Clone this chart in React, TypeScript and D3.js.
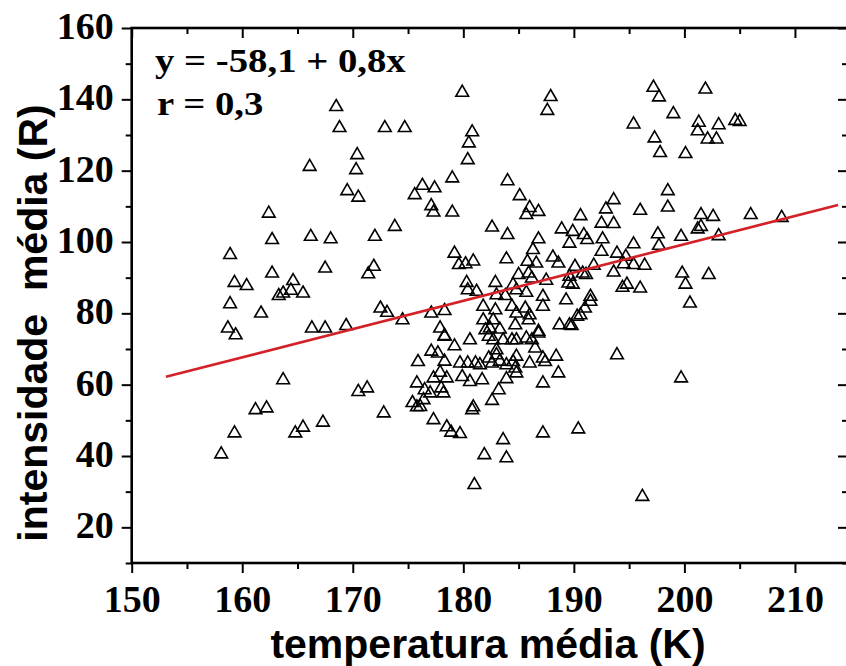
import React, { useRef, useEffect } from 'react';
import * as d3 from 'd3';

// temperatura média (K) de cada ponto
const temperatura = [
  168.5, 168.8, 172.9, 174.7, 166.1, 170.4, 170.3, 169.5, 170.5, 162.4,
  162.7, 166.2, 168.0, 172.0, 173.8, 158.9, 162.7, 167.5, 171.9, 171.4,
  159.3, 160.4, 164.6, 163.3, 163.7, 164.4, 165.5, 158.9, 161.7, 172.5,
  173.1, 174.5, 158.7, 166.3, 167.5, 169.4, 159.4, 163.7, 170.5, 171.3,
  161.2, 162.2, 172.8, 159.3, 164.8, 165.5, 167.3, 158.1, 175.6, 175.9,
  175.8, 175.4, 175.8, 179.9, 187.9, 187.6, 180.8, 180.5, 180.4, 179.0,
  176.3, 177.4, 177.1, 177.3, 179.0, 184.0, 185.1, 186.0, 186.8, 185.7,
  182.6, 184.0, 186.8, 186.3, 190.6, 193.6, 192.9, 192.5, 193.6, 188.9,
  189.9, 190.9, 191.2, 192.6, 189.6, 192.5, 193.9, 179.2, 183.9, 188.1,
  180.9, 179.6, 180.2, 185.8, 186.6, 188.6, 197.2, 197.7, 201.9, 199.0,
  195.4, 201.3, 203.1, 201.2, 202.1, 202.9, 204.6, 205.0, 197.3, 197.8,
  200.1, 196.0, 198.5, 198.5, 201.5, 202.6, 206.0, 208.8, 197.6, 199.7,
  201.2, 201.5, 203.1, 197.7, 195.4, 194.7, 194.5, 195.4, 196.4, 190.1,
  191.8, 190.8, 191.1, 193.6, 189.9, 194.4, 194.8, 196.0, 199.8, 202.2,
  200.1, 200.5, 191.5, 191.5, 191.0, 190.6, 190.3, 189.8, 193.9, 199.7,
  190.4, 196.2, 181.0, 181.9, 183.9, 183.6, 187.2, 177.3, 178.5, 178.9,
  179.7, 180.8, 180.9, 182.6, 183.2, 183.9, 184.8, 184.7, 187.2, 188.6,
  188.4, 187.4, 187.2, 186.0, 186.5, 186.8, 180.6, 179.2, 178.3, 177.1,
  177.7, 179.7, 180.4, 181.1, 178.3, 177.3, 177.9, 178.5, 179.9, 180.6,
  181.7, 176.5, 177.0, 178.2, 178.0, 176.4, 176.1, 182.3, 183.0, 183.3,
  182.6, 183.9, 184.5, 184.8, 181.5, 177.1, 178.3, 180.3, 180.4, 181.2,
  182.9, 185.0, 185.9, 186.2, 184.5, 184.8, 183.0, 183.8, 185.7, 187.5,
  189.6, 189.5, 187.2, 187.2, 189.3, 181.8, 182.9, 182.7, 184.4, 184.8,
  185.6, 186.0, 185.9, 184.7, 181.8, 182.0, 182.4, 183.3, 188.7, 189.6,
  186.8, 177.9, 178.3, 182.3, 182.7, 183.6, 184.4, 184.8, 185.7, 186.2, 183.0,
];

// intensidade média (R) de cada ponto
const intensidade = [
  137.9, 132.0, 132.0, 132.0, 121.1, 124.4, 120.2, 114.3, 112.5, 108.0,
  100.6, 101.5, 100.8, 101.5, 104.3, 96.4, 91.2, 92.6, 93.1, 91.0,
  88.6, 87.7, 89.1, 84.9, 85.6, 86.4, 85.6, 82.6, 80.0, 81.4,
  80.2, 78.1, 75.8, 75.8, 75.8, 76.5, 73.9, 61.3, 58.0, 59.0,
  52.9, 53.4, 52.0, 46.4, 46.4, 48.0, 49.4, 40.5, 113.2, 66.4,
  60.4, 54.9, 53.7, 141.9, 140.7, 136.8, 130.8, 127.7, 123.0, 117.9,
  115.8, 115.1, 110.1, 108.3, 108.3, 117.1, 112.9, 109.6, 108.5, 107.6,
  104.1, 102.0, 100.8, 97.8, 107.3, 111.8, 109.2, 105.2, 105.1, 103.6,
  102.9, 102.0, 100.6, 100.8, 99.6, 97.3, 96.8, 96.8, 95.2, 95.7,
  94.6, 93.6, 93.8, 94.5, 94.0, 94.0, 143.3, 140.6, 142.8, 135.9,
  133.0, 133.5, 132.8, 131.1, 128.8, 128.8, 134.0, 133.7, 129.1, 125.0,
  124.7, 108.8, 114.3, 109.7, 107.6, 107.1, 107.6, 106.8, 102.2, 101.5,
  103.6, 104.3, 101.7, 99.0, 99.4, 95.9, 93.8, 93.6, 93.4, 93.1,
  93.4, 91.2, 90.8, 91.5, 88.1, 87.2, 88.1, 87.0, 91.2, 90.8,
  88.1, 82.8, 84.7, 83.3, 81.4, 79.5, 79.1, 76.5, 68.3, 61.8,
  47.5, 28.6, 31.9, 40.3, 39.4, 44.5, 46.4, 50.1, 48.1, 46.6,
  46.2, 52.9, 53.7, 55.5, 58.5, 61.6, 63.2, 64.6, 60.4, 63.2,
  67.9, 66.4, 67.4, 66.0, 70.2, 74.4, 72.5, 70.8, 73.7, 69.3,
  68.8, 66.0, 66.0, 66.0, 66.5, 61.8, 63.4, 61.8, 62.2, 60.8,
  61.3, 58.5, 57.6, 57.6, 59.0, 55.7, 53.8, 67.4, 68.3, 66.5,
  66.0, 65.5, 66.4, 67.9, 65.5, 80.0, 80.7, 88.6, 86.5, 86.1,
  88.6, 90.8, 91.2, 89.8, 88.0, 86.5, 85.1, 84.9, 85.8, 89.2,
  90.3, 88.4, 84.7, 81.9, 83.7, 81.9, 80.9, 78.1, 81.9, 80.0,
  81.4, 79.5, 78.1, 76.7, 78.1, 75.3, 75.8, 75.5, 76.7, 76.7,
  74.9, 75.8, 73.5, 73.5, 72.5, 72.5, 72.5, 72.5, 73.0, 72.5, 69.7,
];

const xTicks = [150, 160, 170, 180, 190, 200, 210];
const xMinorTicks = [155, 165, 175, 185, 195, 205];
const yTicks = [20, 40, 60, 80, 100, 120, 140, 160];
const yMinorTicks = [10, 30, 50, 70, 90, 110, 130, 150];

// reta ajustada (extremos)
const fitX = [153.1, 213.9];
const fitY = [62.2, 110.4];

const equationText = 'y = -58,1 + 0,8x';
const corrText = 'r = 0,3';
const xTitle = 'temperatura média (K)';
const yTitle = 'intensidade  média (R)';

function ScatterChart() {
  const svgRef = useRef<SVGSVGElement>(null);

  useEffect(() => {
    const width = 846;
    const height = 666;
    const left = 131.7;
    const top = 28;
    const right = 848;
    const bottom = 563;

    const serif = '"Liberation Serif", "Times New Roman", serif';
    const sans = '"Liberation Sans", Arial, sans-serif';

    const x = d3.scaleLinear().domain([150, 214.8]).range([left, right]);
    const y = d3.scaleLinear().domain([10, 160]).range([bottom, top]);

    const svg = d3.select(svgRef.current);
    svg.selectAll('*').remove();
    svg.attr('width', width).attr('height', height).attr('viewBox', [0, 0, width, height]);

    const styleAxis = (g: any, labels: boolean) => {
      g.select('.domain').remove();
      g.selectAll('line').attr('stroke', '#000').attr('stroke-width', 2);
      if (labels) {
        g.selectAll('text')
          .attr('font-family', serif)
          .attr('font-size', 38)
          .attr('font-weight', 'bold')
          .attr('fill', '#000');
      }
    };

    // bottom axis
    svg.append('g')
      .attr('transform', `translate(0,${bottom})`)
      .call(d3.axisBottom(x).tickValues(xTicks).tickSize(10).tickPadding(12).tickFormat(d3.format('d')))
      .call(g => styleAxis(g, true));
    svg.append('g')
      .attr('transform', `translate(0,${bottom})`)
      .call(d3.axisBottom(x).tickValues(xMinorTicks).tickSize(6).tickFormat(() => ''))
      .call(g => styleAxis(g, false));

    // top axis, ticks inward
    svg.append('g')
      .attr('transform', `translate(0,${top})`)
      .call(d3.axisTop(x).tickValues(xTicks).tickSize(-10).tickFormat(() => ''))
      .call(g => styleAxis(g, false));
    svg.append('g')
      .attr('transform', `translate(0,${top})`)
      .call(d3.axisTop(x).tickValues(xMinorTicks).tickSize(-6).tickFormat(() => ''))
      .call(g => styleAxis(g, false));

    // left axis
    svg.append('g')
      .attr('transform', `translate(${left},0)`)
      .call(d3.axisLeft(y).tickValues(yTicks).tickSize(10).tickPadding(8).tickFormat(d3.format('d')))
      .call(g => styleAxis(g, true))
      .call(g => g.selectAll('text').attr('dy', '0.28em'));
    svg.append('g')
      .attr('transform', `translate(${left},0)`)
      .call(d3.axisLeft(y).tickValues(yMinorTicks).tickSize(6).tickFormat(() => ''))
      .call(g => styleAxis(g, false));

    // right axis, ticks inward
    svg.append('g')
      .attr('transform', `translate(${right},0)`)
      .call(d3.axisRight(y).tickValues(yTicks).tickSize(-10).tickFormat(() => ''))
      .call(g => styleAxis(g, false));
    svg.append('g')
      .attr('transform', `translate(${right},0)`)
      .call(d3.axisRight(y).tickValues(yMinorTicks).tickSize(-6).tickFormat(() => ''))
      .call(g => styleAxis(g, false));

    // frame
    svg.append('rect')
      .attr('x', left)
      .attr('y', top)
      .attr('width', right - left)
      .attr('height', bottom - top)
      .attr('fill', 'none')
      .attr('stroke', '#000')
      .attr('stroke-width', 2.6);

    // points
    const tri = d3.symbol(d3.symbolTriangle, 70)();
    svg.append('g')
      .attr('fill', 'none')
      .attr('stroke', '#000')
      .attr('stroke-width', 1.6)
      .selectAll('path')
      .data(d3.range(temperatura.length))
      .join('path')
      .attr('transform', i => `translate(${x(temperatura[i])},${y(intensidade[i])})`)
      .attr('d', tri);

    // fit line
    const line = d3.line<number>()
      .x(i => x(fitX[i]))
      .y(i => y(fitY[i]));
    svg.append('path')
      .datum([0, 1])
      .attr('fill', 'none')
      .attr('stroke', '#d42027')
      .attr('stroke-width', 2.6)
      .attr('d', line);

    // equation (the original type is a bit wider than Liberation Serif)
    svg.append('text')
      .attr('transform', 'translate(155,72) scale(1.14,1)')
      .attr('font-family', serif)
      .attr('font-size', 34)
      .attr('font-weight', 'bold')
      .text(equationText);
    svg.append('text')
      .attr('transform', 'translate(157,115) scale(1.14,1)')
      .attr('font-family', serif)
      .attr('font-size', 34)
      .attr('font-weight', 'bold')
      .text(corrText);

    // axis titles
    svg.append('text')
      .attr('x', 488)
      .attr('y', 658)
      .attr('text-anchor', 'middle')
      .attr('font-family', sans)
      .attr('font-size', 41)
      .attr('font-weight', 'bold')
      .text(xTitle);
    svg.append('text')
      .attr('transform', 'translate(47,323) rotate(-90)')
      .attr('text-anchor', 'middle')
      .attr('font-family', sans)
      .attr('font-size', 41)
      .attr('font-weight', 'bold')
      .style('white-space', 'pre')
      .text(yTitle);
  }, []);

  return <svg ref={svgRef} style={{ display: 'block' }}></svg>;
}

export default function App() {
  useEffect(() => {
    document.body.style.margin = '0';
  }, []);
  return (
    <div style={{ width: 846, height: 666, background: '#fff', overflow: 'hidden' }}>
      <ScatterChart />
    </div>
  );
}
